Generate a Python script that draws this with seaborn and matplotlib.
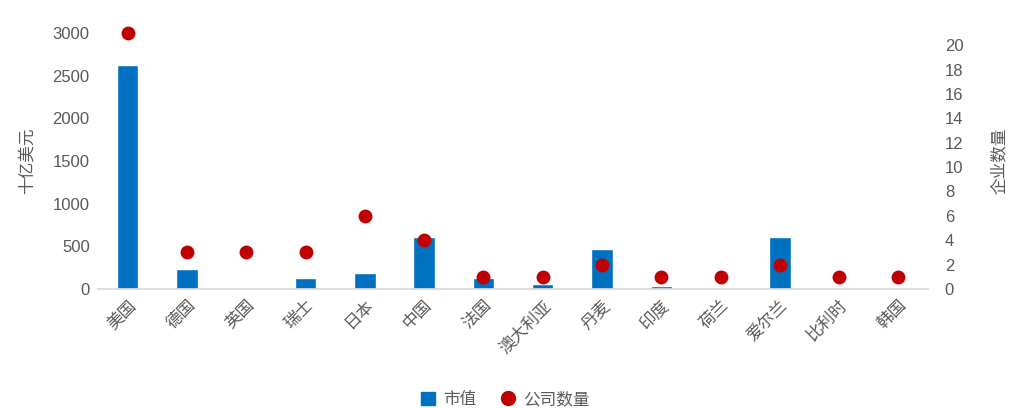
import numpy as np
import pandas as pd
import matplotlib
matplotlib.use("Agg")
import matplotlib.pyplot as plt
import seaborn as sns
from matplotlib.lines import Line2D
from matplotlib.patches import Patch

countries = ["美国", "德国", "英国", "瑞士", "日本", "中国", "法国", "澳大利亚",
             "丹麦", "印度", "荷兰", "爱尔兰", "比利时", "韩国"]
market_cap = [2620, 230, 15, 130, 190, 610, 130, 60, 470, 30, 15, 610, 0, 0]
company_count = [21, 3, 3, 3, 6, 4, 1, 1, 2, 1, 1, 2, 1, 1]

blue = "#0070C0"
red = "#C00000"
grey = "#595959"

sns.set_theme(style="white")
plt.rcParams['font.family'] = ['Liberation Sans', 'Noto Sans CJK SC', 'DejaVu Sans']

df = pd.DataFrame({"国家": countries, "市值": market_cap, "公司数量": company_count})

fig = plt.figure(figsize=(10.11, 4.08), dpi=100)
ax = fig.add_axes([0.097, 0.2917, 0.821, 0.6273])
ax2 = ax.twinx()

sns.barplot(data=df, x="国家", y="市值", color=blue, width=0.36,
            saturation=1, ax=ax)
sns.stripplot(data=df, x="国家", y="公司数量", color=red, jitter=False,
              size=10, linewidth=0, ax=ax2, zorder=5, clip_on=False)

ax.set_ylim(0, 3000)
ax.set_yticks(range(0, 3001, 500))
ax2.set_ylim(0, 21)
ax2.set_yticks(range(0, 21, 2))
ax.set_xlim(-0.5, len(countries) - 0.5)

ax.set_xlabel("")
ax.set_ylabel("十亿美元", color=grey, fontsize=12, labelpad=13)
ax2.set_ylabel("企业数量", color=grey, fontsize=12, labelpad=20)
ax2.set_xlabel("")

for a in (ax, ax2):
    for s in a.spines.values():
        s.set_visible(False)
    a.tick_params(axis="y", length=0, labelsize=12, labelcolor=grey, pad=6)
ax2.tick_params(axis="y", pad=12)
ax.spines["bottom"].set_visible(True)
ax.spines["bottom"].set_color("#D9D9D9")
ax.tick_params(axis="x", length=0, labelsize=12, labelcolor=grey, pad=6)
plt.setp(ax.get_xticklabels(), rotation=45, ha="right", rotation_mode="anchor")

handles = [Patch(facecolor=blue, edgecolor=blue, label="市值"),
           Line2D([], [], marker="o", linestyle="", markerfacecolor=red,
                  markeredgecolor=red, markersize=10, label="公司数量")]
fig.legend(handles=handles, loc="lower center", bbox_to_anchor=(0.5, -0.035),
           ncol=2, frameon=False, fontsize=12, labelcolor=grey,
           handlelength=0.8, handleheight=0.8, columnspacing=1.5, handletextpad=0.5)

fig.savefig("out.png", dpi=100)
